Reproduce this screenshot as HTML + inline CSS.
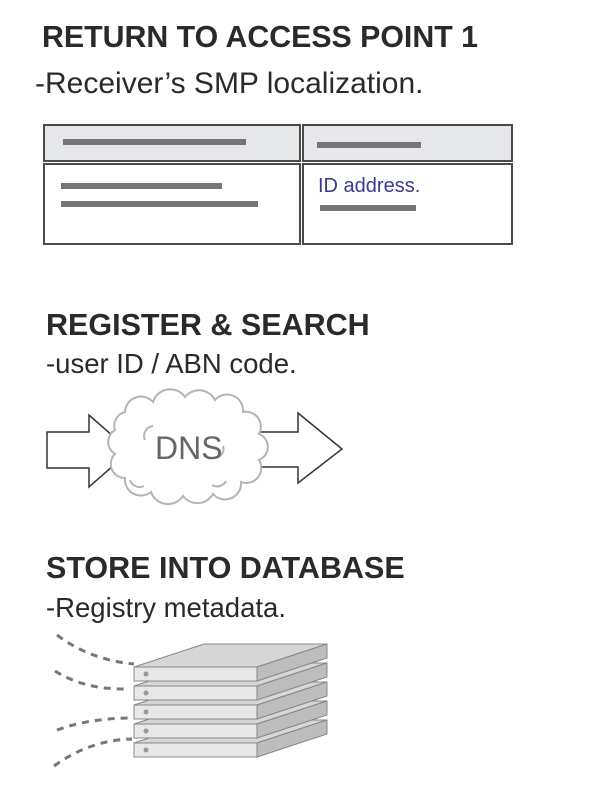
<!DOCTYPE html>
<html><head><style>
body{margin:0;background:#fff;width:600px;height:793px;overflow:hidden;position:relative;font-family:"Liberation Sans",Arial,sans-serif}
.t{position:absolute;color:#2a2a2a;white-space:nowrap}
.h{font-weight:bold;font-size:30px}
.s{font-size:27px}
</style></head><body>
<div class="t h" style="left:42px;top:21px;font-size:30.3px">RETURN TO ACCESS POINT 1</div>
<div class="t s" style="left:35px;top:67px;font-size:30px">-Receiver’s SMP localization.</div>
<div class="t h" style="left:46px;top:308px;font-size:30.5px">REGISTER &amp; SEARCH</div>
<div class="t s" style="left:46px;top:348px;font-size:27.5px">-user ID / ABN code.</div>
<div class="t h" style="left:46px;top:551px;font-size:30.5px">STORE INTO DATABASE</div>
<div class="t s" style="left:46px;top:592px;font-size:27.5px">-Registry metadata.</div>
<svg width="600" height="793" style="position:absolute;left:0;top:0">
<g stroke="#4a4a4a" stroke-width="2">
<rect x="44" y="125" width="256" height="36" fill="#e6e7e9"/>
<rect x="303" y="125" width="209" height="36" fill="#e6e7e9"/>
<rect x="44" y="164" width="256" height="80" fill="#fff"/>
<rect x="303" y="164" width="209" height="80" fill="#fff"/>
</g>
<g fill="#757578">
<rect x="63" y="139" width="183" height="6"/>
<rect x="317" y="142" width="104" height="6"/>
<rect x="61" y="183" width="161" height="6"/>
<rect x="61" y="201" width="197" height="6"/>
<rect x="320" y="205" width="96" height="6"/>
</g>
<text x="318" y="192" font-size="20" fill="#3a3a90" font-family="Liberation Sans">ID address.</text>
<g stroke="#333" stroke-width="1.5" fill="#fff">
<polygon points="47,432 89,432 89,415 130,451 89,487 89,468 47,468"/>
<polygon points="240,432 298,432 298,413 342,449 298,483 298,467 240,467"/>
</g>
<path d="M125,412 a16,16 0 0 1 28,-10 a18,18 0 0 1 32,-5 a18,18 0 0 1 30,3 a16,16 0 0 1 28,12 a15,15 0 0 1 16,22 a14,14 0 0 1 0,26 a15,15 0 0 1 -18,22 a16,16 0 0 1 -28,12 a18,18 0 0 1 -30,2 a18,18 0 0 1 -32,-4 a16,16 0 0 1 -26,-14 a14,14 0 0 1 -10,-24 a14,14 0 0 1 0,-24 a14,14 0 0 1 10,-18z" fill="#fff" stroke="#b4b4b4" stroke-width="2"/>
<path d="M145,440 a10,10 0 0 1 8,-14 M215,458 a9,9 0 0 0 8,-12 M130,480 a10,10 0 0 0 14,6 M212,485 a10,10 0 0 0 14,-4" fill="none" stroke="#b4b4b4" stroke-width="2"/>
<text x="155" y="459" font-size="32" fill="#666" font-family="Liberation Sans">DNS</text>
<g stroke="#777" stroke-width="3" stroke-dasharray="7,6" fill="none">
<path d="M57,635 Q90,660 134,664"/>
<path d="M55,671 Q85,690 128,689"/>
<path d="M57,730 Q90,718 132,718"/>
<path d="M54,766 Q90,740 132,739"/>
</g>
<g stroke="#888" stroke-width="1">
<defs><g id="sl">
<polygon points="134,667 204,644 327,644 257,667" fill="#d6d6d8"/>
<polygon points="257,667 327,644 327,658 257,681" fill="#bdbdc0"/>
<rect x="134" y="667" width="123" height="14" fill="#e8e8ea"/>
<circle cx="146" cy="674" r="2.5" fill="#999" stroke="none"/>
</g></defs>
<use href="#sl" y="76"/><use href="#sl" y="57"/><use href="#sl" y="38"/><use href="#sl" y="19"/><use href="#sl"/>
</g>
</svg>
</body></html>
